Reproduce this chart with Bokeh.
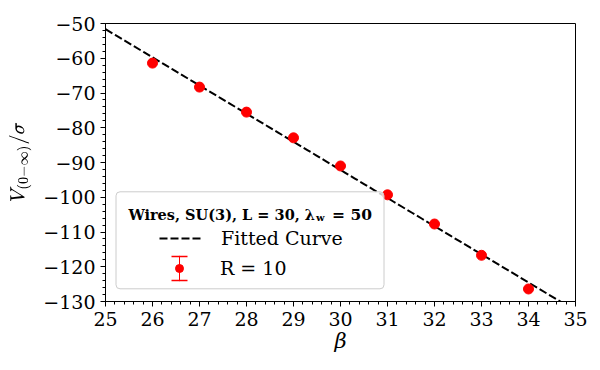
import numpy as np
from bokeh.plotting import figure
from bokeh.models import (Range1d, SingleIntervalTicker, CustomJSTickFormatter, Legend,
                          LegendItem, BoxAnnotation, Label, ColumnDataSource)
from bokeh.embed import file_html
from bokeh.resources import INLINE

# ---- data ----
beta = [26, 27, 28, 29, 30, 31, 32, 33, 34]
V = [-61.4, -68.3, -75.5, -82.9, -91.0, -99.3, -107.7, -116.7, -126.4]
V_err = [0.3, 0.3, 0.3, 0.3, 0.35, 0.35, 0.4, 0.4, 0.45]
beta_range = [25, 35]
V_range = [-130, -50]
series_label = "R = 10"
fit_label = "Fitted Curve"

# linear fit through the data
slope, intercept = np.polyfit(beta, V, 1)
fit_beta = np.linspace(beta_range[0], beta_range[1], 50)
fit_V = slope * fit_beta + intercept

FONT = "DejaVu Serif"

p = figure(frame_width=470, frame_height=278,
           x_range=Range1d(*beta_range), y_range=Range1d(*V_range),
           output_backend="svg", toolbar_location=None,
           min_border_left=105, min_border_top=23, min_border_right=25, min_border_bottom=69,
           background_fill_color="white", border_fill_color="white")
p.xgrid.visible = False
p.ygrid.visible = False
p.outline_line_color = "black"
p.outline_line_width = 1
p.outline_line_alpha = 1

p.xaxis.ticker = SingleIntervalTicker(interval=1, num_minor_ticks=5)
p.yaxis.ticker = SingleIntervalTicker(interval=10, num_minor_ticks=5)
fmt = CustomJSTickFormatter(code="return tick < 0 ? '\u2212' + Math.abs(tick) : String(tick);")
p.yaxis.formatter = fmt
for ax in (p.xaxis, p.yaxis):
    ax.major_tick_out = 5
    ax.major_tick_in = 0
    ax.minor_tick_out = 3
    ax.minor_tick_in = 0
    ax.axis_line_color = "black"
    ax.major_tick_line_color = "black"
    ax.minor_tick_line_color = "black"
    ax.major_label_text_font = FONT
    ax.major_label_text_font_size = "19px"
    ax.major_label_text_color = "black"
    ax.major_label_standoff = 5
    ax.axis_label_text_font = FONT
    ax.axis_label_text_font_size = "21px"
    ax.axis_label_text_font_style = "normal"
    ax.axis_label_text_color = "black"

p.xaxis.axis_label = "\u03b2"
p.xaxis.axis_label_text_font_style = "italic"
p.xaxis.axis_label_standoff = 0
p.yaxis.axis_label = r"$$V_{(0-\infty)}/\sigma$$"
p.yaxis.axis_label_text_font_size = "17px"
p.yaxis.axis_label_standoff = 9

# fitted curve
fit_r = p.line(fit_beta, fit_V, line_color="black", line_width=2, line_dash="8 3")

# error bars
bar_r = p.rect(x=beta, y=V, width=0, height=[2 * e for e in V_err],
               fill_color=None, line_color="red", line_width=1.5)
cap_src = ColumnDataSource(dict(
    x=beta + beta,
    y=[v + e for v, e in zip(V, V_err)] + [v - e for v, e in zip(V, V_err)]))
cap_r = p.rect(x="x", y="y", width=16, width_units="screen", height=0, source=cap_src,
               fill_color=None, line_color="red", line_width=1.5, line_dash="16 24")
pt_r = p.scatter(beta, V, size=10, fill_color="red", line_color="red", marker="circle")

# legend frame
box = BoxAnnotation(left=10.5, right=278.5, bottom=12.7, top=109.7,
                    left_units="screen", right_units="screen",
                    bottom_units="screen", top_units="screen",
                    fill_color="white", fill_alpha=0.8,
                    line_color="#cccccc", line_width=1, line_alpha=1, border_radius=4)
p.add_layout(box)

title_kw = dict(x_units="screen", y_units="screen", text_font=FONT,
                text_font_style="bold", text_color="black", text_baseline="alphabetic")
p.add_layout(Label(x=209.5, y=87.4, text="Wires, SU(3), L = 30, \u03bb",
                   text_align="right", text_font_size="14.5px", **title_kw))
p.add_layout(Label(x=210.5, y=84.0, text="w", text_align="left",
                   text_font_size="10px", **title_kw))
p.add_layout(Label(x=226.5, y=87.4, text="= 50", text_align="left",
                   text_font_size="15.5px", **title_kw))

leg_kw = dict(padding=0, margin=0, spacing=0, border_line_color=None,
              background_fill_alpha=0, label_text_font=FONT,
              label_text_font_size="19px", label_text_color="black",
              glyph_height=30, label_height=30)
legA = Legend(items=[LegendItem(label=fit_label, renderers=[fit_r])], location=(54, 48),
              glyph_width=42, label_standoff=20, **leg_kw)
legB = Legend(items=[LegendItem(label=series_label, renderers=[cap_r, pt_r])], location=(64, 18),
              glyph_width=20, label_standoff=31, **leg_kw)
legC = Legend(items=[LegendItem(label=" ", renderers=[bar_r])], location=(74, 18),
              glyph_width=1, label_standoff=0, **leg_kw)
for lg in (legA, legB, legC):
    p.add_layout(lg)

open("out.html", "w").write(file_html(p, INLINE))
